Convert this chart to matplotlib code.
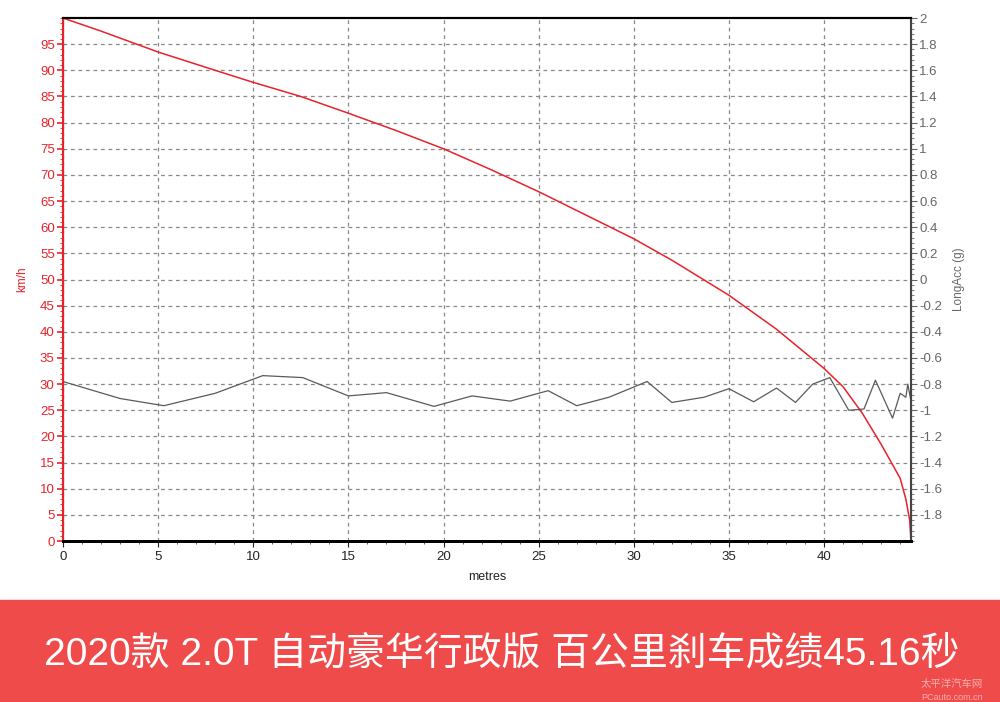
import numpy as np
import matplotlib
matplotlib.use("Agg")
import matplotlib.pyplot as plt
from matplotlib.patches import Rectangle
from matplotlib.ticker import MultipleLocator

plt.rcParams['font.family'] = ['Liberation Sans', 'Noto Sans CJK SC', 'DejaVu Sans']

# speed (km/h) vs distance (m)
dist_speed = [0, 2, 5, 8, 10, 12.5, 15, 17.5, 20, 22.5, 25, 27.5, 30, 32, 35,
              37.5, 40, 41, 42, 43, 44, 44.3, 44.5, 44.57]
speed = [100, 97.5, 93.5, 90, 87.7, 85, 81.8, 78.5, 75, 71, 66.8, 62.3, 57.8,
         53.7, 47, 40.5, 33, 29.5, 24.5, 18.5, 12, 8, 4, 0]

# longitudinal acceleration (g) vs distance (m)
dist_acc = [0, 3, 5.3, 8, 10.5, 12.6, 15, 17, 19.5, 21.5, 23.5, 25.5, 27, 28.7,
            30.7, 32, 33.7, 35, 36.3, 37.5, 38.5, 39.4, 40.3, 41.3, 42.1, 42.7,
            43.6, 44.0, 44.3, 44.4, 44.57]
acc = [-0.78, -0.91, -0.965, -0.87, -0.735, -0.75, -0.89, -0.865, -0.97, -0.89,
       -0.93, -0.85, -0.965, -0.90, -0.78, -0.94, -0.90, -0.835, -0.935, -0.83,
       -0.94, -0.80, -0.75, -1.0, -0.99, -0.77, -1.06, -0.87, -0.9, -0.8, -0.93]

acc_ticks = [-1.8, -1.6, -1.4, -1.2, -1, -0.8, -0.6, -0.4, -0.2, 0,
             0.2, 0.4, 0.6, 0.8, 1, 1.2, 1.4, 1.6, 1.8, 2]

title = "2020款 2.0T 自动豪华行政版 百公里刹车成绩45.16秒"

fig = plt.figure(figsize=(10, 7.02), dpi=100)
ax = fig.add_axes([0.063, 0.2293, 0.848, 0.745])
ax2 = ax.twinx()

red = "#e8222a"
gray = "#666666"

ax.plot(dist_speed, speed, color=red, lw=1.1, zorder=3)
ax2.plot(dist_acc, acc, color="#5a5a5a", lw=0.9)

ax.set_xlim(0, 44.57)
ax.set_ylim(0, 100)
ax2.set_ylim(-2, 2)

ax.set_xticks(np.arange(0, 45, 5))
ax.xaxis.set_minor_locator(MultipleLocator(1))
ax.set_yticks(np.arange(0, 100, 5))
ax.yaxis.set_minor_locator(MultipleLocator(1))
ax2.set_yticks(acc_ticks)
ax2.set_yticklabels([f"{v:g}" for v in acc_ticks])
ax2.yaxis.set_minor_locator(MultipleLocator(0.04))

ax.grid(True, which="major", color="#888888", ls=(0, (3, 3)), lw=0.9)

ax.tick_params(axis="x", labelsize=9.5, colors="#222222", length=4, pad=3)
ax.tick_params(axis="x", which="minor", length=2, colors="#444444")
ax.tick_params(axis="y", labelsize=9.5, colors=red, length=4, width=1.2, pad=2)
ax.tick_params(axis="y", which="minor", length=2, colors=red)
ax2.tick_params(axis="y", labelsize=9.5, colors=gray, length=4, pad=2)
ax2.tick_params(axis="y", which="minor", length=2, colors=gray)

for s in ("top", "bottom"):
    ax.spines[s].set_color("black")
ax.spines["bottom"].set_linewidth(2)
ax.spines["top"].set_linewidth(1.5)
ax2.spines["left"].set_color(red)
ax2.spines["left"].set_linewidth(1.5)
ax2.spines["right"].set_color("#444444")
ax2.spines["right"].set_linewidth(1.5)
ax2.spines["top"].set_linewidth(1.5)
ax2.spines["bottom"].set_linewidth(2)

ax.set_xlabel("metres", fontsize=9, color="#222222", labelpad=6)
ax.set_ylabel("km/h", fontsize=8.5, color=red, labelpad=8)
ax2.set_ylabel("LongAcc (g)", fontsize=8.5, color=gray, labelpad=8)

fig.patches.append(Rectangle((0, 0), 1, 0.1453, transform=fig.transFigure,
                             color="#f04b4b", zorder=0))
fig.text(0.502, 0.0685, title, color="white", fontsize=28, ha="center", va="center",
         family=["Liberation Sans", "Noto Sans CJK SC"])
fig.text(0.952, 0.021, "太平洋汽车网", color="#f7b0b0", fontsize=7.5, ha="center")
fig.text(0.952, 0.003, "PCauto.com.cn", color="#f7b0b0", fontsize=6.5, ha="center")

fig.savefig("out.png", dpi=100)
